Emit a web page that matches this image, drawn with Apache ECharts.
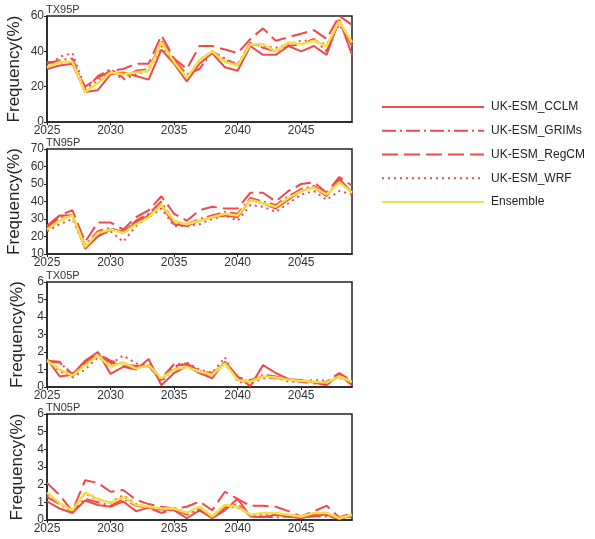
<!DOCTYPE html>
<html><head><meta charset="utf-8">
<script src="https://cdn.jsdelivr.net/npm/echarts@6/dist/echarts.min.js"></script>
<style>html,body{margin:0;padding:0;background:#fff}#c{width:595px;height:539px}</style>
</head><body><div id="c"></div>
<script>
const years = [];
for (let y = 2025; y <= 2049; y++) years.push(y);
const seriesNames = ['UK-ESM_CCLM','UK-ESM_GRIMs','UK-ESM_RegCM','UK-ESM_WRF','Ensemble'];
const panelTitles = ['TX95P','TN95P','TX05P','TN05P'];

const tx95_CCLM  = [30,32,33,17,18,27,28,26,24,41,33,23,33,39,31,29,43,38,38,43,40,43,38,58,38];
const tx95_GRIMs = [33,35,36,18,26,30,25,29,30,46,35,27,30,40,36,32,45,42,40,43,44,47,40,57,43];
const tx95_RegCM = [34,34,33,20,25,29,30,33,33,49,36,30,43,43,41,39,47,53,46,48,50,52,47,60,55];
const tx95_WRF   = [31,37,39,19,23,29,24,27,29,43,34,25,35,40,35,33,44,43,42,44,46,46,44,55,45];
const tx95_Ens   = [31,34,34,17,22,28,27,28,29,45,34,25,35,40,34,32,44,44,40,45,44,46,43,57,45];

const tn95_CCLM  = [26,32,32,13,20,24,23,28,32,38,27,26,29,31,32,31,41,39,36,41,46,48,43,53,45];
const tn95_GRIMs = [25,31,32,15,23,25,22,29,33,40,28,27,30,32,34,33,42,40,38,43,47,49,44,52,45];
const tn95_RegCM = [26,32,35,17,28,28,24,31,35,43,33,29,35,37,36,36,45,45,40,46,50,51,45,54,49];
const tn95_WRF   = [23,27,30,14,21,23,17,26,31,36,26,26,27,30,32,29,38,37,34,39,44,46,41,46,44];
const tn95_Ens   = [24,29,32,14,22,24,22,27,31,38,29,27,29,31,33,32,41,39,37,42,46,48,44,51,45];

const tx05_CCLM  = [1.6,0.6,0.7,1.5,2.0,0.75,1.15,1.0,1.6,0.1,0.8,1.2,0.8,0.5,1.45,0.6,0.05,1.25,0.8,0.45,0.4,0.25,0.1,0.7,0.1];
const tx05_GRIMs = [1.5,1.45,0.6,1.4,1.9,1.5,1.3,1.2,1.3,0.5,1.3,1.35,0.9,0.8,1.3,0.5,0.3,0.7,0.6,0.4,0.35,0.3,0.2,0.6,0.3];
const tx05_RegCM = [1.45,1.4,0.75,1.35,1.8,1.4,1.2,1.1,1.2,0.4,1.2,1.3,0.8,0.7,1.4,0.55,0.4,0.6,0.5,0.45,0.3,0.2,0.3,0.8,0.35];
const tx05_WRF   = [1.5,0.9,0.55,1.0,1.7,1.3,1.8,1.35,1.2,0.3,1.1,1.4,1.0,0.8,1.7,0.3,0.2,0.5,0.55,0.3,0.3,0.4,0.35,0.5,0.45];
const tx05_Ens   = [1.5,1.0,0.65,1.25,1.8,1.15,1.4,1.05,1.25,0.5,1.0,1.15,0.88,0.7,1.35,0.4,0.3,0.6,0.55,0.4,0.35,0.3,0.25,0.6,0.3];

const tn05_CCLM  = [1.05,0.65,0.4,1.1,0.85,0.75,1.05,0.5,0.7,0.6,0.55,0.1,0.55,0.1,0.55,1.2,0.2,0.15,0.3,0.2,0.1,0.3,0.3,0.05,0.25];
const tn05_GRIMs = [1.3,0.9,0.5,1.2,1.0,0.8,1.2,0.8,0.7,0.4,0.6,0.3,0.6,0.15,0.7,0.9,0.2,0.2,0.15,0.2,0.15,0.2,0.2,0.1,0.2];
const tn05_RegCM = [2.1,1.4,0.5,2.25,2.1,1.6,1.7,1.15,0.9,0.75,0.65,0.75,1.05,0.55,1.6,1.2,0.8,0.8,0.75,0.5,0.2,0.5,0.8,0.15,0.4];
const tn05_WRF   = [1.4,0.95,0.5,1.5,1.15,1.0,1.4,0.9,0.7,0.4,0.7,0.4,0.6,0.1,0.75,0.7,0.3,0.3,0.35,0.2,0.2,0.3,0.25,0.1,0.2];
const tn05_Ens   = [1.55,0.95,0.55,1.55,1.2,0.95,1.3,0.85,0.75,0.65,0.65,0.4,0.75,0.2,0.85,0.75,0.3,0.4,0.4,0.3,0.2,0.4,0.4,0.1,0.3];

const yMins = [0,10,0,0];
const yMaxs = [60,70,6,6];
const yIntervals = [20,10,1,1];

const panels = [
  [tx95_CCLM,tx95_GRIMs,tx95_RegCM,tx95_WRF,tx95_Ens],
  [tn95_CCLM,tn95_GRIMs,tn95_RegCM,tn95_WRF,tn95_Ens],
  [tx05_CCLM,tx05_GRIMs,tx05_RegCM,tx05_WRF,tx05_Ens],
  [tn05_CCLM,tn05_GRIMs,tn05_RegCM,tn05_WRF,tn05_Ens]
];

const RED = '#f04a4a';
const YEL = '#f0e046';
const styles = [
  {color: RED, width: 2, type: 'solid'},
  {color: RED, width: 2, type: [14,4,2,4]},
  {color: RED, width: 2, type: [16,6]},
  {color: RED, width: 2, type: [2,4]},
  {color: YEL, width: 2.5, type: 'solid'}
];

const gridTops = [16,149,282,414];
const gridHeights = [106,105,105,106];
const nameGaps = [24,24,21,21];
const FONT = 'Liberation Sans';

const grids = [], xAxes = [], yAxes = [], series = [], titles = [];
for (let p = 0; p < 4; p++) {
  grids.push({left: 47, width: 305, top: gridTops[p], height: gridHeights[p],
    containLabel: false, outerBoundsMode: 'none',
    show: true, borderColor: '#222', borderWidth: 1.5, backgroundColor: 'transparent'});
  xAxes.push({type: 'value', gridIndex: p, min: 2025, max: 2049, interval: 5,
    axisLine: {show: true, lineStyle: {color: '#222', width: 1.5}},
    axisTick: {show: true, length: 3, lineStyle: {color: '#222'}},
    axisLabel: {color: '#333', fontSize: 12, fontFamily: FONT, margin: 3, showMaxLabel: false,
      formatter: v => String(v)},
    splitLine: {show: false}});
  yAxes.push({type: 'value', gridIndex: p, min: yMins[p], max: yMaxs[p], interval: yIntervals[p],
    name: 'Frequency(%)', nameLocation: 'middle', nameGap: nameGaps[p], nameMoveOverlap: false,
    nameTextStyle: {fontSize: 17, fontFamily: FONT, color: '#222'},
    axisLine: {show: true, lineStyle: {color: '#222', width: 1.5}},
    axisTick: {show: true, length: 3, lineStyle: {color: '#222'}},
    axisLabel: {color: '#333', fontSize: 12, fontFamily: FONT, margin: 3},
    splitLine: {show: false}});
  titles.push({text: panelTitles[p], left: 46, top: gridTops[p] - 12, padding: 0,
    textStyle: {fontSize: 11, fontWeight: 'normal', fontFamily: FONT, color: '#333'}});
  for (let s = 0; s < 5; s++) {
    series.push({name: seriesNames[s], type: 'line', xAxisIndex: p, yAxisIndex: p,
      data: years.map((y, i) => [y, panels[p][s][i]]),
      showSymbol: false, symbol: 'none', lineStyle: styles[s], itemStyle: {color: styles[s].color},
      silent: true, animation: false, z: s === 4 ? 3 : 2});
  }
}

const chart = echarts.init(document.getElementById('c'), null, {renderer: 'canvas'});
chart.setOption({
  animation: false,
  backgroundColor: '#fff',
  title: titles,
  grid: grids, xAxis: xAxes, yAxis: yAxes, series: series,
  legend: {data: seriesNames, orient: 'vertical', left: 381, top: 101, padding: 0,
    itemWidth: 102, itemHeight: 14, itemGap: 11.75,
    itemStyle: {opacity: 0, borderWidth: 0},
    textStyle: {fontSize: 12, fontFamily: FONT, color: '#222', padding: [0,0,0,2]}}
});
</script></body></html>
